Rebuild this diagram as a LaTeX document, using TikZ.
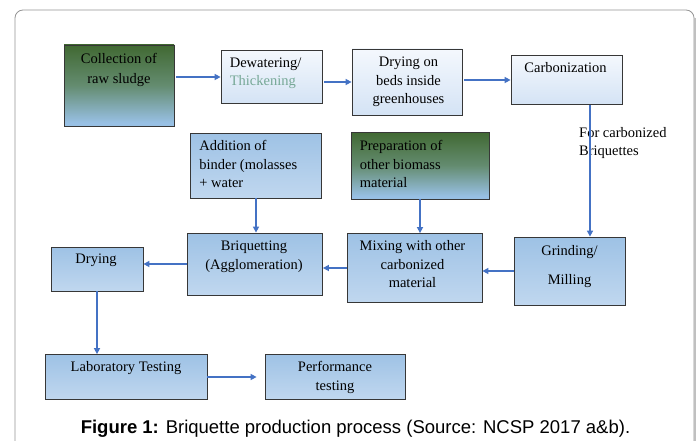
\documentclass[tikz,border=0pt]{standalone}
\usepackage{fontspec}
\setmainfont{Liberation Serif}
\newfontfamily\capfont{Liberation Sans}
\usepackage{tikz}
\usetikzlibrary{arrows.meta,positioning}
\definecolor{flowblue}{RGB}{68,114,196}
\definecolor{boxline}{RGB}{55,55,55}
\definecolor{paletop}{RGB}{244,248,253}
\definecolor{palebot}{RGB}{212,227,245}
\definecolor{bluetop}{RGB}{158,194,229}
\definecolor{bluebot}{RGB}{192,215,239}
\definecolor{mossgreen}{RGB}{58,98,38}
\definecolor{mossmid}{RGB}{100,140,112}
\definecolor{skyblue}{RGB}{152,192,228}
\definecolor{thicktxt}{RGB}{118,168,150}
\definecolor{framegray}{RGB}{150,150,150}
\pgfdeclareverticalshading{mossblue}{100bp}{color(0bp)=(skyblue); color(27bp)=(skyblue); color(50bp)=(mossmid); color(80bp)=(mossgreen); color(100bp)=(mossgreen)}
\tikzset{
  stage/.style={draw=boxline, line width=0.8pt, inner sep=0pt, rectangle},
  palestage/.style={stage, top color=paletop, bottom color=palebot},
  bluestage/.style={stage, top color=bluetop, bottom color=bluebot},
  mossstage/.style={stage, shade, shading=mossblue},
  steptext/.style={font=\fontsize{14.5}{18.5}\selectfont, inner sep=0pt, align=center, anchor=north},
  flow/.style={draw=flowblue, line width=1.7pt, -{Triangle[length=6pt,width=6pt]}}
}

\begin{document}
\begin{tikzpicture}[x=1pt,y=-1pt]
    \fill[white] (0,0) rectangle (698,441);
    \useasboundingbox (0,0) rectangle (698,441);

    % Frame
    \draw[framegray, line width=0.8pt, rounded corners=8pt] (15,445) -- (15,10) -- (694,10) -- (694,445);
    \draw[framegray!60, line width=2pt] (694.5,18) -- (694.5,445);

    % Stages
    \node[mossstage, minimum width=110, minimum height=81] (coll) at (119,85.5) {};
    \node[palestage, minimum width=101, minimum height=53] (dew) at (271.5,77) {};
    \node[palestage, minimum width=110, minimum height=66] (beds) at (407,82) {};
    \node[palestage, minimum width=111, minimum height=49] (carb) at (566.5,80) {};
    \node[bluestage, minimum width=131, minimum height=65] (binder) at (256,165.5) {};
    \node[mossstage, minimum width=138, minimum height=67] (prep) at (420,165.5) {};
    \node[bluestage, minimum width=111, minimum height=68] (grind) at (569.5,271) {};
    \node[bluestage, minimum width=135, minimum height=69] (mix) at (414.5,268) {};
    \node[bluestage, minimum width=135, minimum height=62] (briq) at (255,264) {};
    \node[bluestage, minimum width=92, minimum height=44] (dry) at (97,269) {};
    \node[bluestage, minimum width=162, minimum height=45] (lab) at (126,377) {};
    \node[bluestage, minimum width=140, minimum height=45] (perf) at (335,376.5) {};

    % Texts
    \node[steptext, font=\fontsize{14.5}{20}\selectfont] (coll-t) at ([yshift=-8.5]coll.north) {Collection of\\raw sludge};
    \node[steptext, anchor=north west, align=left] (dew-t) at ([xshift=9,yshift=-7.5]dew.north west) {Dewatering/\\\textcolor{thicktxt}{Thickening}};
    \node[steptext] (beds-t) at ([xshift=1.5,yshift=-8.5]beds.north) {Drying on\\beds inside\\greenhouses};
    \node[steptext] (carb-t) at ([xshift=-1,yshift=-7.5]carb.north) {Carbonization};
    \node[steptext, anchor=north west, align=left] (binder-t) at ([xshift=9,yshift=-7.5]binder.north west) {Addition of\\binder (molasses\\+ water};
    \node[steptext, anchor=north west, align=left] (prep-t) at ([xshift=9,yshift=-8.5]prep.north west) {Preparation of\\other biomass\\material};
    \node[steptext, font=\fontsize{14.5}{29}\selectfont] (grind-t) at ([yshift=-8.5]grind.north) {Grinding/\\Milling};
    \node[steptext] (mix-t) at ([xshift=-2,yshift=-7.5]mix.north) {Mixing with other\\carbonized\\material};
    \node[steptext] (briq-t) at ([xshift=-1,yshift=-8.5]briq.north) {Briquetting\\(Agglomeration)};
    \node[steptext] (dry-t) at ([xshift=-1,yshift=-7.5]dry.north) {Drying};
    \node[steptext] (lab-t) at ([yshift=-7.5]lab.north) {Laboratory Testing};
    \node[steptext] (perf-t) at ([yshift=-7.5]perf.north) {Performance\\testing};
    \node[steptext, anchor=north west, align=left] (note) at (579,126.8) {For carbonized\\Briquettes};

    % Flow arrows
    \coordinate (cut) at ([xshift=23.5]carb.south);
    \draw[flow, shorten <=2pt] (coll.east |- dew.west) -- (dew.west);
    \draw[flow, shorten <=2pt] (dew.east |- beds.west) -- (beds.west);
    \draw[flow, shorten <=2pt] (beds.east |- carb.west) -- (carb.west);
    \draw[flow] (cut) -- (cut |- grind.north);
    \draw[flow] (grind.west) -- (grind.west -| mix.east);
    \draw[flow] (mix.west) -- (mix.west -| briq.east);
    \draw[flow] (binder.south) -- (binder.south |- briq.north);
    \draw[flow] (prep.south) -- (prep.south |- mix.north);
    \draw[flow] (briq.west) -- (briq.west -| dry.east);
    \draw[flow] (dry.south) -- (dry.south |- lab.north);
    \draw[flow, shorten >=8pt] (lab.east) -- (lab.east -| perf.west);

    % Caption
    \node[anchor=base, inner sep=0pt, font=\capfont\fontsize{18.5}{22}\selectfont] (caption) at (355.5,433.3) {\textbf{Figure 1:} Briquette production process (Source: NCSP 2017 a\&b).};
\end{tikzpicture}
\end{document}
